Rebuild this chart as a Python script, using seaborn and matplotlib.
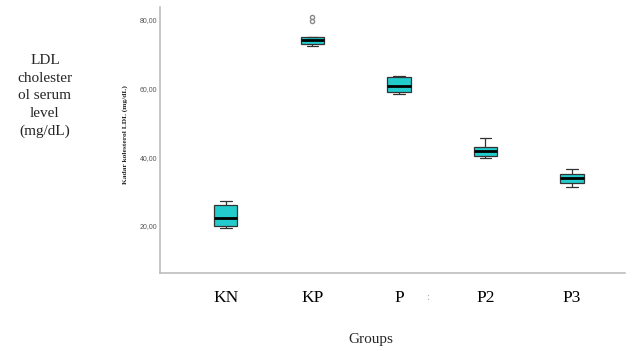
import numpy as np
import pandas as pd
import matplotlib
matplotlib.use("Agg")
import matplotlib.pyplot as plt
import seaborn as sns

# LDL cholesterol per group (mg/dL)
groups = ["KN", "KP", "P", "P2", "P3"]
kn = [19.4, 20.0, 22.3, 26.1, 27.3]
kp = [72.4, 72.7, 73.0, 73.6, 74.1, 74.6, 75.0, 79.7, 80.8]
p = [58.3, 58.9, 60.6, 63.2, 63.7]
p2 = [39.8, 40.4, 41.8, 43.0, 45.6]
p3 = [31.4, 32.5, 34.0, 35.1, 36.6]
yticks = [20, 40, 60, 80]
ytick_labels = ["20,00", "40,00", "60,00", "80,00"]

values = [kn, kp, p, p2, p3]
df = pd.DataFrame({
    "group": [g for g, v in zip(groups, values) for _ in v],
    "ldl": [x for v in values for x in v],
})

sns.set_theme(style="white")
plt.rcParams["font.family"] = ["Liberation Serif", "DejaVu Serif"]

fig = plt.figure(figsize=(6.33, 3.51), dpi=100)
ax = fig.add_axes([0.2528, 0.2222, 0.7342, 0.7578])

sns.boxplot(
    data=df, x="group", y="ldl", order=groups,
    color="#22CCCC", saturation=1, width=0.27,
    linecolor="#333333", linewidth=0.9, fliersize=3,
    flierprops=dict(marker="o", markerfacecolor="none", markeredgecolor="#8a8a8a"),
    medianprops=dict(color="black", linewidth=2),
    ax=ax,
)

ax.set_xlim(-0.76, 4.61)
ax.set_ylim(6.3, 83.7)

for side in ["top", "right"]:
    ax.spines[side].set_visible(False)
for side in ["left", "bottom"]:
    ax.spines[side].set_color("#bdbdbd")
    ax.spines[side].set_linewidth(1.2)

ax.set_yticks(yticks, labels=ytick_labels)
ax.tick_params(axis="y", length=0, pad=2, labelsize=5, labelcolor="#555555")
for t in ax.get_yticklabels():
    t.set_family("Liberation Sans")

ax.set_xticks(range(len(groups)), labels=groups)
ax.tick_params(axis="x", length=0, pad=12, labelsize=12.5, labelcolor="black")

ax.set_xlabel("")
ax.set_ylabel("Kadar kolesterol LDL (mg/dL)", fontsize=5.4, fontweight="bold")
ax.yaxis.set_label_coords(-0.0688, 0.519)

fig.text(428 / 633, 1 - 298 / 351, ":", color="#aaaaaa", fontsize=8, ha="center", va="center")
fig.text(45 / 633, 1 - 96 / 351, "LDL\ncholester\nol serum\nlevel\n(mg/dL)",
         ha="center", va="center", fontsize=11, linespacing=1.45)
fig.text(371 / 633, 1 - 340 / 351, "Groups", ha="center", va="center", fontsize=11)

fig.savefig("out.png", dpi=100)
